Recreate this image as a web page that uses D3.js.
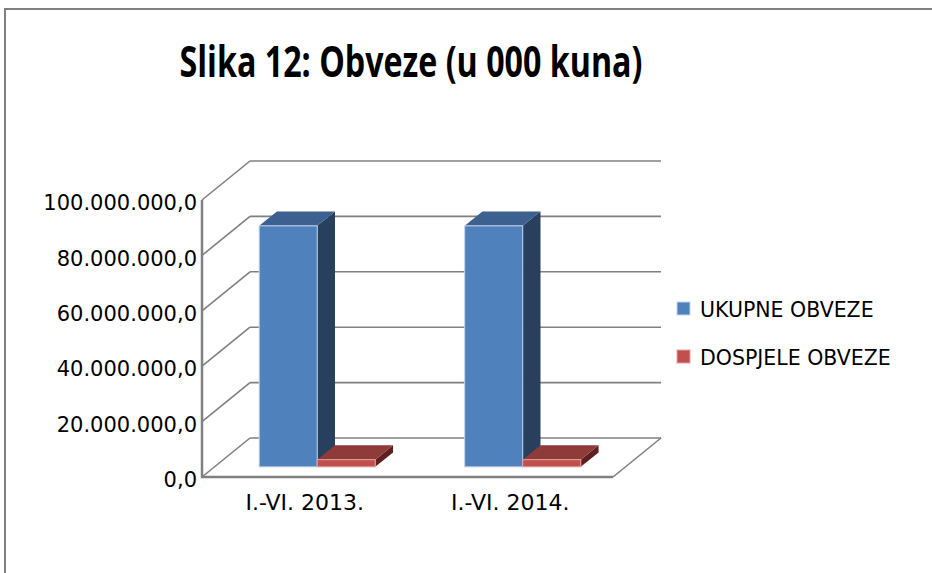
<!DOCTYPE html>
<html>
<head>
<meta charset="utf-8">
<script src="https://cdn.jsdelivr.net/npm/d3@7"></script>
<style>
  body { margin: 0; background: #fff; }
  svg { display: block; }
</style>
</head>
<body>
<div class="chart"></div>
<script>

// data
var categories = ["I.-VI. 2013.", "I.-VI. 2014."];
var seriesNames = ["UKUPNE OBVEZE", "DOSPJELE OBVEZE"];
var ukupne = [87000000, 87000000];
var dospjele = [2600000, 2600000];
var yTicks = [0, 20000000, 40000000, 60000000, 80000000, 100000000];

var W = 932, H = 573;

// 3d look: back wall offset and where the bars sit inside the depth
var depth = {dx: 48, dy: -39, front: 0.26, back: 0.63};
var colors = [
    {front: "#4f81bd", top: "#3c6190", side: "#283f5e", edge: "#c5d3e8"},
    {front: "#c0504d", top: "#8e3b39", side: "#5e1f1e", edge: "#e3a3a1"}
];
var gridColor = "#808080";

var hr = d3.formatLocale({decimal: ",", thousands: ".", grouping: [3], currency: ["", " kn"]});
var fmt = hr.format(",.1f");

var svg = d3.select(".chart").append("svg")
    .attr("width", W)
    .attr("height", H);

// outer frame (runs off the right and bottom)
svg.append("path")
    .attr("d", "M5," + H + "V9H" + W)
    .attr("fill", "none")
    .attr("stroke", gridColor)
    .attr("stroke-width", 2);

svg.append("text")
    .attr("x", 411)
    .attr("y", 77)
    .attr("text-anchor", "middle")
    .attr("font-family", "'Open Sans', sans-serif")
    .attr("font-weight", "bold")
    .attr("font-size", 43)
    .attr("textLength", 463)
    .attr("lengthAdjust", "spacingAndGlyphs")
    .attr("fill", "#000")
    .text("Slika 12: Obveze (u 000 kuna)");

var x0 = d3.scaleBand().domain(categories).range([202, 613]);
var x1 = d3.scaleBand().domain(seriesNames).range([0, x0.bandwidth()]).paddingOuter(0.77);
var y = d3.scaleLinear().domain([0, 100000000]).range([477, 200]);

var left = x0.range()[0], right = x0.range()[1];

// back wall grid lines and left wall diagonals
var grid = svg.append("g")
    .attr("fill", "none")
    .attr("stroke", gridColor)
    .attr("stroke-width", 1.6);

grid.selectAll(".back").data(yTicks).enter().append("line")
    .attr("x1", left + depth.dx).attr("x2", right + depth.dx)
    .attr("y1", function (d) { return y(d) + depth.dy; })
    .attr("y2", function (d) { return y(d) + depth.dy; });

grid.selectAll(".wall").data(yTicks).enter().append("line")
    .attr("x1", left).attr("x2", left + depth.dx)
    .attr("y1", function (d) { return y(d); })
    .attr("y2", function (d) { return y(d) + depth.dy; });

// floor right edge
grid.append("line")
    .attr("x1", right).attr("y1", y(0))
    .attr("x2", right + depth.dx).attr("y2", y(0) + depth.dy);

// front axis lines
svg.append("path")
    .attr("d", "M" + left + "," + y(100000000) + "V" + y(0) + "H" + right)
    .attr("fill", "none")
    .attr("stroke", gridColor)
    .attr("stroke-width", 2.5);

// bars
function drawBar(g, x, w, v, c) {
    var fx = x + depth.dx * depth.front, fy = depth.dy * depth.front;
    var bdx = depth.dx * (depth.back - depth.front), bdy = depth.dy * (depth.back - depth.front);
    var yb = y(0) + fy, yt = y(v) + fy;
    // side
    g.append("path")
        .attr("d", "M" + (fx + w) + "," + yb + "L" + (fx + w) + "," + yt +
            "L" + (fx + w + bdx) + "," + (yt + bdy) + "L" + (fx + w + bdx) + "," + (yb + bdy) + "Z")
        .attr("fill", c.side);
    // top
    g.append("path")
        .attr("d", "M" + fx + "," + yt + "L" + (fx + w) + "," + yt +
            "L" + (fx + w + bdx) + "," + (yt + bdy) + "L" + (fx + bdx) + "," + (yt + bdy) + "Z")
        .attr("fill", c.top);
    // front
    g.append("rect")
        .attr("x", fx).attr("y", yt)
        .attr("width", w).attr("height", yb - yt)
        .attr("fill", c.front)
        .attr("stroke", c.edge)
        .attr("stroke-width", 1);
}

var bars = svg.append("g");
categories.forEach(function (cat, i) {
    var vals = [ukupne[i], dospjele[i]];
    seriesNames.forEach(function (s, j) {
        drawBar(bars, x0(cat) + x1(s), x1.bandwidth(), vals[j], colors[j]);
    });
});

// y axis labels
var yAxis = svg.append("g")
    .attr("transform", "translate(" + left + ",3)")
    .call(d3.axisLeft(y).tickValues(yTicks).tickFormat(fmt).tickSize(0).tickPadding(5));
yAxis.select(".domain").remove();
yAxis.selectAll("text")
    .attr("font-family", "'DejaVu Sans', sans-serif")
    .attr("font-size", 21)
    .attr("fill", "#000");

// x axis labels
var xAxis = svg.append("g")
    .attr("transform", "translate(0," + y(0) + ")")
    .call(d3.axisBottom(x0).tickSize(0).tickPadding(17));
xAxis.select(".domain").remove();
xAxis.selectAll("text")
    .attr("font-family", "'DejaVu Sans', sans-serif")
    .attr("font-size", 22)
    .attr("fill", "#000");

// legend
var legend = svg.append("g")
    .selectAll("g").data(seriesNames).enter().append("g")
    .attr("transform", function (d, i) { return "translate(677," + (308 + i * 48) + ")"; });

legend.append("rect")
    .attr("x", 0).attr("y", -6)
    .attr("width", 13).attr("height", 13)
    .attr("fill", function (d, i) { return colors[i].front; })
    .attr("stroke", function (d, i) { return colors[i].edge; })
    .attr("stroke-width", 1);

legend.append("text")
    .attr("x", 23).attr("y", 2)
    .attr("dy", "0.35em")
    .attr("font-family", "'DejaVu Sans', sans-serif")
    .attr("font-size", 20.5)
    .attr("fill", "#000")
    .text(function (d) { return d; });

</script>
</body>
</html>
